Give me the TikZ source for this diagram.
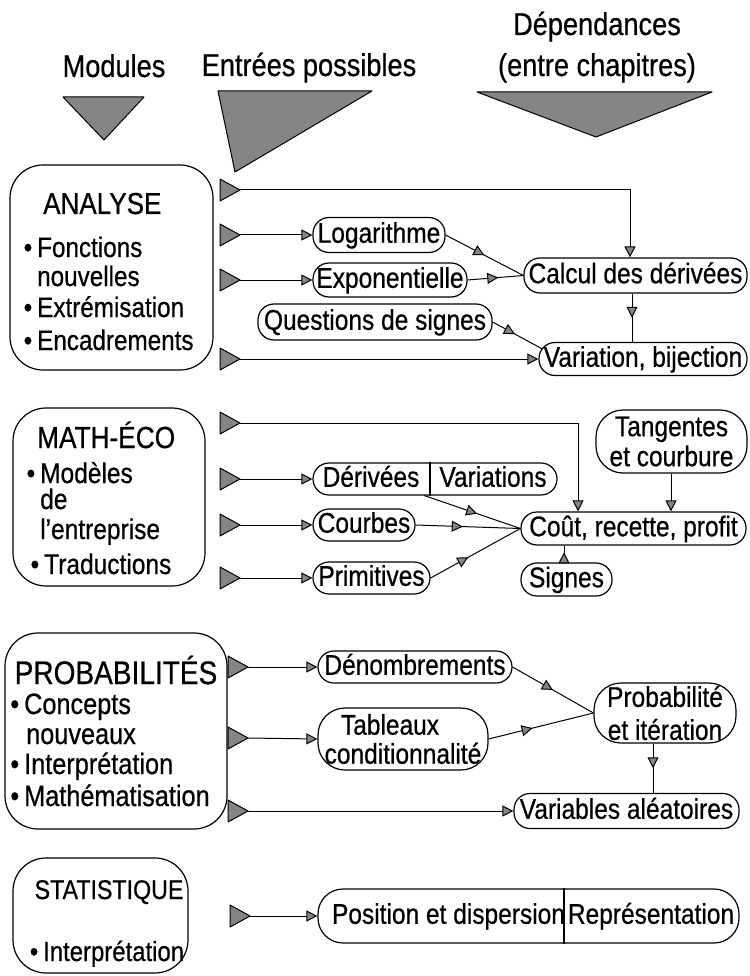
\documentclass[tikz,border=0pt]{standalone}
\usepackage{fontspec}
\setmainfont{Liberation Sans}[FakeStretch=0.86,FakeBold=0.6]
\usetikzlibrary{arrows.meta,decorations.markings,calc}
\definecolor{trigray}{gray}{0.52}
\newcommand\fsHead{\fontsize{31.6}{36}\selectfont}
\newcommand\fsBox{\fontsize{28.5}{32}\selectfont}
\newcommand\fsTtl[1]{\fontsize{#1}{#1}\selectfont}
\newcommand\bul{\llap{\textbullet\hspace{5pt}}}
\begin{document}
\begin{tikzpicture}[x=1pt,y=-1pt,
  conn/.style={line width=1pt},
  endarr/.style={conn,-{Triangle[length=11pt,width=11pt,fill=trigray]}},
  midarr/.style={conn,postaction={decorate},decoration={markings,mark=at position #1 with {\arrow{Triangle[length=11pt,width=11pt,fill=trigray]}}}},
  bigtri/.style={fill=trigray,draw=black,line width=1pt,line join=round},
  pill/.style={draw,line width=1.2pt,rounded corners=16pt,inner sep=0pt,font=\fsBox,text height=19.5pt,text depth=4pt},
  boxtext/.style={font=\fsBox,inner sep=0pt,text height=19.5pt,text depth=4pt},
  pilltwo/.style={draw,line width=1.2pt,rounded corners=27pt,inner sep=0pt,font=\fsBox,align=center},
  modbox/.style={draw,line width=1.2pt,rounded corners=33pt,inner sep=0pt},
  head/.style={font=\fsHead,anchor=base,inner sep=0pt},
  tx/.style={anchor=base west,inner sep=0pt},
  txc/.style={anchor=base,inner sep=0pt}
]
\useasboundingbox (0,0) rectangle (749,976);

% headers
\node[head] (hdep) at (597,35) {Dépendances};
\node[head] (hmod) at (114,77) {Modules};
\node[head] (hent) at (309,76) {Entrées possibles};
\node[head] (hchap) at (597,76) {(entre chapitres)};
\filldraw[bigtri] (63,97) -- (144,97) -- (104,140) -- cycle;
\filldraw[bigtri] (218,91) -- (372,91) -- (235,172) -- cycle;
\filldraw[bigtri] (477,92) -- (712,92) -- (596,137) -- cycle;

% module boxes
\node[modbox,minimum width=203pt,minimum height=205pt] (anbox) at (111.5,267.5) {};
\node[modbox,minimum width=192pt,minimum height=178pt] (mebox) at (109,497) {};
\node[modbox,minimum width=222pt,minimum height=196pt] (prbox) at (116,731) {};
\node[modbox,minimum width=175pt,minimum height=115pt] (stbox) at (100.5,915.5) {};

% ANALYSE texts
\node[tx,font=\fsTtl{30.3}] (anT) at (43,214) {ANALYSE};
\node[tx,font=\fsTtl{28.2}] (an1) at (37,257) {\bul Fonctions};
\node[tx,font=\fsTtl{28.2}] (an2) at (37,286) {nouvelles};
\node[tx,font=\fsTtl{28.2}] (an3) at (37,317) {\bul Extrémisation};
\node[tx,font=\fsTtl{28.2}] (an4) at (37,350) {\bul Encadrements};

% MATH-ECO texts
\node[tx,font=\fsTtl{30.5}] (meT) at (37,448) {MATH-ÉCO};
\node[tx,font=\fsTtl{28.5}] (me1) at (40,483) {\bul Modèles};
\node[tx,font=\fsTtl{28.5}] (me2) at (40,509) {de};
\node[tx,font=\fsTtl{28.5}] (me3) at (40,539) {l’entreprise};
\node[tx,font=\fsTtl{28.5}] (me4) at (44,574) {\bul Traductions};

% PROBA texts
\node[txc,font=\fsTtl{32.6}] (prT) at (116,684) {PROBABILITÉS};
\node[tx,font=\fsTtl{29.4}] (pr1) at (24,714) {\bul Concepts};
\node[tx,font=\fsTtl{29.4}] (pr2) at (26,744) {nouveaux};
\node[tx,font=\fsTtl{29.4}] (pr3) at (24,774) {\bul Interprétation};
\node[tx,font=\fsTtl{29.4}] (pr4) at (24,806) {\bul Mathématisation};

% STAT texts
\node[txc,font=\fsTtl{27}] (stT) at (109,899) {STATISTIQUE};
\node[tx,font=\fsTtl{27.8}] (st1) at (43,961) {\bul Interprétation};

% entry triangles
\foreach \n/\x/\y in {e1/240/190,e2/240/235,e3/240/280,e4/240/359,
                      e5/240/423,e6/240/479,e7/240/525,e8/240/578,
                      e9/248/667,e10/248/738,e11/248/811,e12/250/916}{
  \coordinate (\n) at (\x,\y);
  \filldraw[bigtri] (\n) -- ++(-20,-11) -- ++(0,22) -- cycle;
}

% ANALYSE chapter boxes
\node[pill,minimum width=132pt,minimum height=35pt] (log) at (379,235) {Logarithme};
\node[pill,minimum width=154pt,minimum height=34pt] (exp) at (390,280) {Exponentielle};
\node[pill,minimum width=234pt,minimum height=36pt] (qs) at (375,322) {Questions de signes};
\node[pill,minimum width=223pt,minimum height=35pt] (calc) at (635.5,275.5) {Calcul des dérivées};
\node[pill,minimum width=208pt,minimum height=33pt] (var) at (643,359) {Variation, bijection};

\draw[endarr] (e1) -| (630,0 |- calc.north);
\draw[endarr] (e2) -- (log.west);
\draw[endarr] (e3) -- (exp.west);
\draw[endarr] (e4) -- (var.west);
\draw[midarr=0.5] (log.east) -- (calc.west);
\draw[midarr=0.55] (exp.east) -- (calc.west);
\draw[midarr=0.5] (632,0 |- calc.south) -- (632,0 |- var.north);
\draw[midarr=0.45] (qs.east) -- ($(var.west)+(4,-10)$);

% MATH-ECO chapter boxes
\node[pilltwo,minimum width=151pt,minimum height=63pt,font=\fontsize{28.5}{30}\selectfont] (tan) at (671.5,441.5) {Tangentes\\et courbure};
\node[pill,minimum width=244pt,minimum height=32pt] (dv) at (435,479) {};
\draw[line width=1.2pt] (430,0 |- dv.north) -- (430,0 |- dv.south);
\node[boxtext] (dvA) at (371,479) {Dérivées};
\node[boxtext] (dvB) at (493,479) {Variations};
\node[pill,minimum width=102pt,minimum height=32pt] (cb) at (364,525) {Courbes};
\node[pill,minimum width=117pt,minimum height=32pt] (pr) at (371.5,578) {Primitives};
\node[pill,minimum width=225pt,minimum height=33pt] (cout) at (633.5,528.5) {Coût, recette, profit};
\node[pill,minimum width=91pt,minimum height=33pt] (sg) at (566.5,579.5) {Signes};

\draw[endarr] (e5) -| (578,0 |- cout.north);
\draw[endarr] (671,0 |- tan.south) -- (671,0 |- cout.north);
\draw[endarr] (e6) -- (dv.west);
\draw[endarr] (e7) -- (cb.west);
\draw[endarr] (e8) -- (pr.west);
\draw[midarr=0.55] ($(dv.south west)+(112,0)$) -- (cout.west);
\draw[midarr=0.45] (cb.east) -- (cout.west);
\draw[midarr=0.42] (pr.east) -- (cout.west);
\draw[midarr=0.6] (564,0 |- sg.north) -- (564,0 |- cout.south);

% PROBA chapter boxes
\node[pill,minimum width=194pt,minimum height=32pt] (den) at (415,667) {Dénombrements};
\node[pilltwo,minimum width=170pt,minimum height=62pt,font=\fontsize{28.5}{29}\selectfont] (tab) at (403,739) {Tableaux\hspace*{26pt}\\conditionnalité};
\node[pilltwo,minimum width=142pt,minimum height=60pt,font=\fontsize{28.5}{33}\selectfont] (prob) at (665,713) {Probabilité\\et itération};
\node[pill,minimum width=225pt,minimum height=35pt] (va) at (626.5,811) {Variables aléatoires};

\draw[endarr] (e9) -- (den.west);
\draw[endarr] (e10) -- (tab.west);
\draw[endarr] (e11) -- (va.west);
\draw[midarr=0.5] (den.east) -- (prob.west);
\draw[midarr=0.42] (tab.east) -- (prob.west);
\draw[midarr=0.5] (653,0 |- prob.south) -- (653,0 |- va.north);

% STAT chapter box
\node[pill,rounded corners=25pt,minimum width=421pt,minimum height=54pt] (pos) at (528.5,916) {};
\draw[line width=1.2pt] (564,0 |- pos.north) -- (564,0 |- pos.south);
\node[boxtext] (posA) at (448.5,916) {Position et dispersion};
\node[boxtext] (posB) at (651,916) {Représentation};
\draw[endarr] (e12) -- (pos.west);
\end{tikzpicture}
\end{document}
